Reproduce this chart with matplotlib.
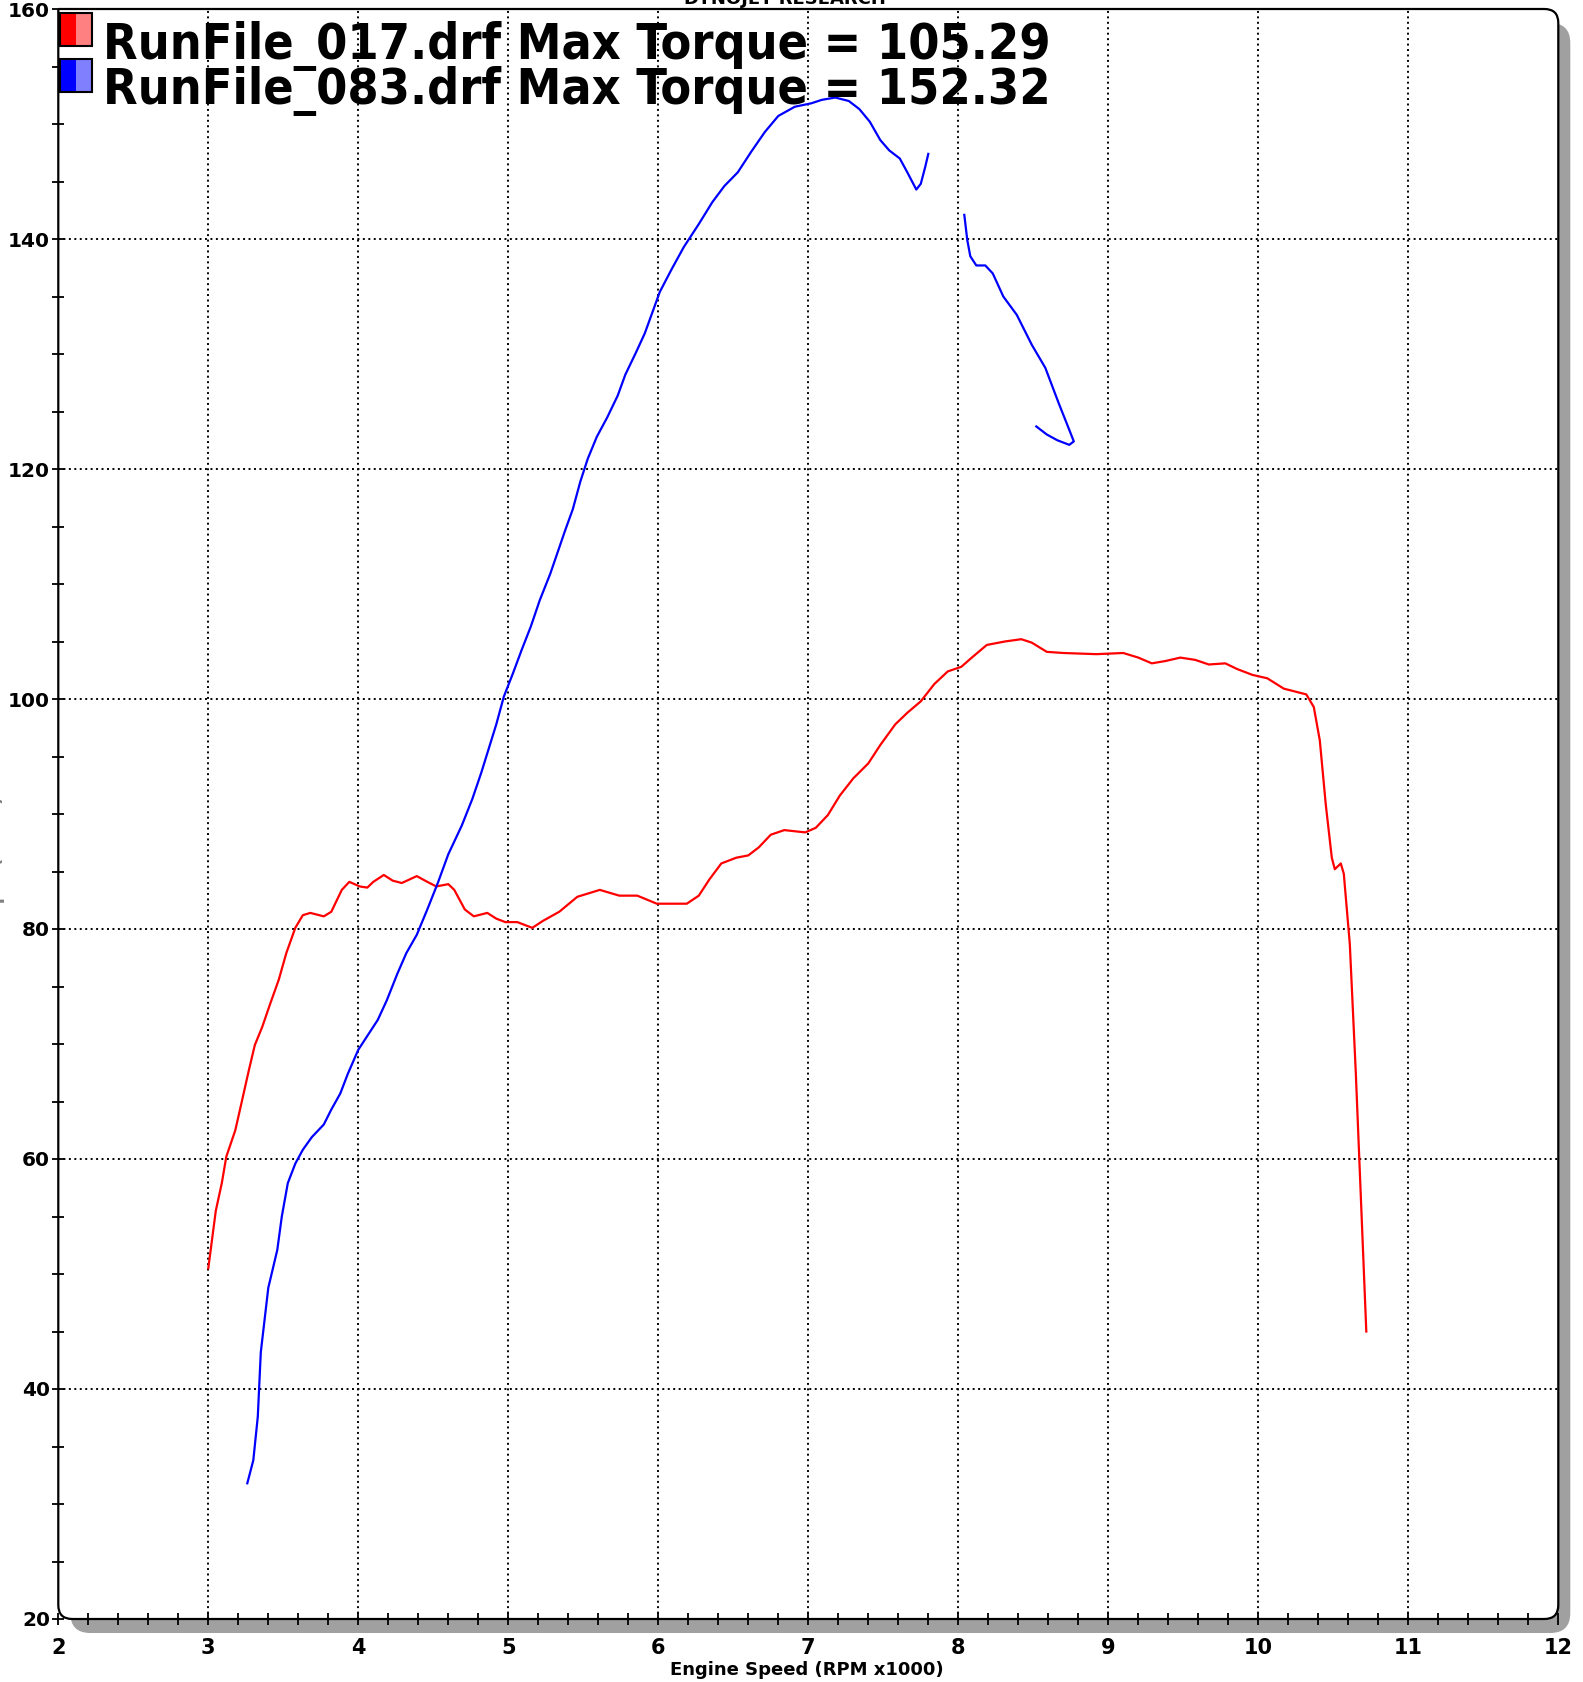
import numpy as np
import matplotlib
matplotlib.use("Agg")
import matplotlib.pyplot as plt
from matplotlib.path import Path
from matplotlib.patches import PathPatch, Rectangle
from matplotlib.transforms import IdentityTransform

# ---------------- data ----------------
red_rpm = [3.00, 3.05, 3.09, 3.12, 3.18, 3.22, 3.27, 3.31, 3.36, 3.41, 3.47, 3.52, 3.58,
           3.63, 3.68, 3.77, 3.82, 3.89, 3.94, 4.01, 4.06, 4.10, 4.17, 4.23, 4.29, 4.34,
           4.39, 4.46, 4.52, 4.60, 4.64, 4.71, 4.77, 4.86, 4.92, 4.98, 5.06, 5.16, 5.23,
           5.34, 5.46, 5.61, 5.74, 5.86, 5.99, 6.14, 6.19, 6.27, 6.34, 6.42, 6.52, 6.60,
           6.67, 6.75, 6.84, 6.98, 7.05, 7.13, 7.21, 7.30, 7.40, 7.48, 7.58, 7.66, 7.75,
           7.84, 7.93, 8.02, 8.09, 8.19, 8.31, 8.42, 8.49, 8.59, 8.70, 8.92, 9.10, 9.20,
           9.29, 9.38, 9.48, 9.58, 9.67, 9.78, 9.86, 9.96, 10.06, 10.17, 10.32, 10.37,
           10.41, 10.45, 10.49, 10.51, 10.55, 10.57, 10.61, 10.65, 10.72]
red_tq = [50.5, 55.5, 57.9, 60.2, 62.5, 64.8, 67.7, 69.9, 71.5, 73.4, 75.6, 77.9, 80.1,
          81.2, 81.4, 81.1, 81.5, 83.4, 84.1, 83.7, 83.6, 84.1, 84.7, 84.2, 84.0, 84.3,
          84.6, 84.1, 83.7, 83.9, 83.4, 81.7, 81.1, 81.4, 80.9, 80.6, 80.6, 80.1, 80.7,
          81.5, 82.8, 83.4, 82.9, 82.9, 82.2, 82.2, 82.2, 82.9, 84.3, 85.7, 86.2, 86.4,
          87.1, 88.2, 88.6, 88.4, 88.8, 89.9, 91.6, 93.1, 94.4, 96.0, 97.8, 98.8, 99.8,
          101.3, 102.4, 102.8, 103.6, 104.7, 105.0, 105.2, 104.9, 104.1, 104.0, 103.9, 104.0, 103.6,
          103.1, 103.3, 103.6, 103.4, 103.0, 103.1, 102.6, 102.1, 101.8, 100.9, 100.4, 99.3,
          96.4, 90.8, 86.2, 85.2, 85.7, 84.8, 78.7, 67.5, 45.0]

blue_rpm = [3.26, 3.30, 3.33, 3.35, 3.40, 3.46, 3.49, 3.53, 3.58, 3.63, 3.69, 3.77, 3.82,
            3.88, 3.93, 4.00, 4.07, 4.13, 4.19, 4.26, 4.32, 4.39, 4.46, 4.53, 4.60, 4.69,
            4.76, 4.82, 4.87, 4.92, 4.97, 5.03, 5.09, 5.15, 5.21, 5.28, 5.33, 5.38, 5.43,
            5.48, 5.53, 5.59, 5.66, 5.73, 5.78, 5.85, 5.91, 5.96, 6.01, 6.09, 6.17, 6.27,
            6.36, 6.44, 6.53, 6.62, 6.71, 6.80, 6.91, 7.02, 7.09, 7.18, 7.27, 7.34, 7.41,
            7.48, 7.54, 7.61, 7.66, 7.72, 7.75, 7.78, 7.80,
            np.nan,
            8.04, 8.06, 8.08, 8.12, 8.18, 8.23, 8.30, 8.39, 8.49, 8.58, 8.67, 8.74, 8.77,
            8.74, 8.66, 8.59, 8.52]
blue_tq = [31.8, 33.8, 37.6, 43.2, 48.8, 52.1, 55.0, 57.9, 59.6, 60.8, 61.9, 63.0, 64.3,
           65.7, 67.4, 69.5, 70.9, 72.1, 73.8, 76.1, 77.9, 79.5, 81.7, 84.0, 86.5, 89.0,
           91.3, 93.6, 95.7, 97.8, 100.2, 102.2, 104.3, 106.3, 108.6, 110.9, 112.8, 114.7, 116.5,
           118.9, 120.9, 122.8, 124.5, 126.4, 128.2, 130.1, 131.8, 133.6, 135.4, 137.4, 139.3, 141.3,
           143.2, 144.6, 145.8, 147.6, 149.3, 150.7, 151.5, 151.8, 152.1, 152.3, 152.0, 151.3, 150.2,
           148.6, 147.7, 147.0, 145.8, 144.3, 144.8, 146.3, 147.4,
           np.nan,
           142.1, 139.9, 138.5, 137.7, 137.7, 137.0, 135.0, 133.4, 130.8, 128.8, 125.7, 123.4, 122.4,
           122.1, 122.5, 123.0, 123.7]

legend_labels = ["RunFile_017.drf Max Torque = 105.29",
                 "RunFile_083.drf Max Torque = 152.32"]
x_ticks = list(range(2, 13))
y_ticks = list(range(20, 161, 20))

# ---------------- layout ----------------
W, H = 1583, 1682
L, R = 58.3, 1558.3
B, T = H - 1619, H - 9

fig = plt.figure(figsize=(W / 100, H / 100), dpi=100)
fig.patch.set_facecolor("white")


def frame_path(x0, y0, x1, y1, r):
    verts = [(x0, y1), (x1 - r, y1), (x1, y1), (x1, y1 - r), (x1, y0 + r),
             (x1, y0), (x1 - r, y0), (x0 + r, y0), (x0, y0), (x0, y0 + r), (x0, y1)]
    codes = [Path.MOVETO, Path.LINETO, Path.CURVE3, Path.CURVE3, Path.LINETO,
             Path.CURVE3, Path.CURVE3, Path.LINETO, Path.CURVE3, Path.CURVE3, Path.LINETO]
    return Path(verts, codes)


dx, dy = 12, 14
shadow = PathPatch(frame_path(L + dx, B - dy, R + dx, T - dy, 20),
                   transform=IdentityTransform(), facecolor="#a0a0a0", edgecolor="none", zorder=0)
fig.add_artist(shadow)
face = PathPatch(frame_path(L, B, R, T, 14), transform=IdentityTransform(),
                 facecolor="white", edgecolor="none", zorder=0.5)
fig.add_artist(face)

ax = fig.add_axes([L / W, B / H, (R - L) / W, (T - B) / H])
ax.set_zorder(2)
ax.set_facecolor("none")
for s in ax.spines.values():
    s.set_visible(False)

ax.set_xlim(2, 12)
ax.set_ylim(20, 160)

# grid
for xv in x_ticks[1:-1]:
    ax.plot([xv, xv], [20, 160], color="black", lw=1.4, ls=(0, (1, 1.8)), zorder=1)
for yv in y_ticks[1:-1]:
    ax.plot([2, 12], [yv, yv], color="black", lw=1.4, ls=(0, (1, 1.8)), zorder=1)

ax.plot(red_rpm, red_tq, color="#ff0000", lw=1.6, zorder=3)
ax.plot(blue_rpm, blue_tq, color="#0000ff", lw=1.6, zorder=3)

ax.set_xticks(x_ticks)
ax.set_xticks(np.arange(2, 12.01, 0.2), minor=True)
ax.set_yticks(y_ticks)
ax.set_yticks(np.arange(20, 160.01, 5), minor=True)
ax.set_xticklabels([str(v) for v in x_ticks])
ax.set_yticklabels([str(v) for v in y_ticks])
ax.tick_params(axis="both", which="both", direction="inout", width=1.3, color="black")
ax.tick_params(axis="x", which="both", length=8, pad=10, labelsize=15)
ax.tick_params(axis="y", which="both", length=8, pad=2, labelsize=14.5)
for lab in ax.get_xticklabels() + ax.get_yticklabels():
    lab.set_fontweight("bold")

# frame outline drawn on top
outline = PathPatch(frame_path(L, B, R, T, 14), transform=IdentityTransform(),
                    facecolor="none", edgecolor="black", lw=1.6, zorder=10)
fig.add_artist(outline)

# legend
sw_colors = [("#ff0000", "#ff8080"), ("#0000ff", "#8080ff")]
sw_tops = [13, 59]
baselines = [59, 104]
for (c1, c2), top, bl, txt in zip(sw_colors, sw_tops, baselines, legend_labels):
    y0 = H - top - 33
    fig.add_artist(Rectangle((60, y0), 16, 33, transform=IdentityTransform(),
                             facecolor=c1, edgecolor="none", zorder=11))
    fig.add_artist(Rectangle((76, y0), 16, 33, transform=IdentityTransform(),
                             facecolor=c2, edgecolor="none", zorder=11))
    fig.add_artist(Rectangle((60, y0), 32, 33, transform=IdentityTransform(),
                             facecolor="none", edgecolor="black", lw=1.5, zorder=12))
    fig.text(103 / W, 1 - bl / H, txt, fontsize=36, fontweight="bold",
             family="DejaVu Sans", fontstretch="condensed",
             ha="left", va="baseline", zorder=12)

fig.text(785 / W, 1 - 4 / H, "DYNOJET RESEARCH", fontsize=13, fontweight="bold",
         ha="center", va="baseline")
fig.text(5 / W, 814 / H, "Torque (ft-lbs)", fontsize=13, fontweight="bold",
         rotation=90, ha="right", va="center", color="#808080")
fig.text(807 / W, 1 - 1670 / H, "Engine Speed (RPM x1000)", fontsize=13, fontweight="bold",
         ha="center", va="center")

fig.savefig("out.png", dpi=100)
